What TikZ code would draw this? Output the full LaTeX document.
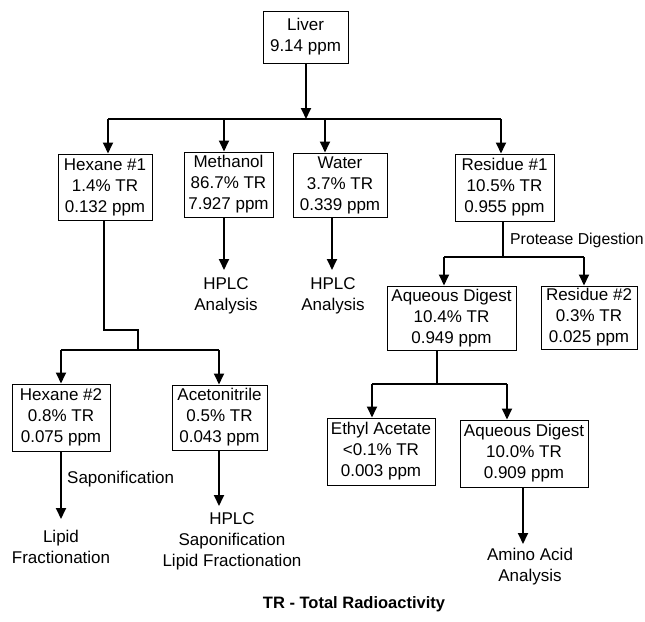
\documentclass[tikz,border=0pt]{standalone}
\usepackage{fontspec}
\setmainfont{Liberation Sans}
\usetikzlibrary{arrows.meta}
\begin{document}
\begin{tikzpicture}[x=1pt,y=-1pt,
  txt/.style={inner sep=0pt, align=center, font=\fontsize{17}{21}\selectfont},
  box/.style={txt, draw, line width=1pt},
  link/.style={line width=1.8pt},
  arr/.style={link, -{Triangle[length=11pt,width=10pt]}}]
\useasboundingbox (0,0) rectangle (645,621);

% sample boxes
\node[box, minimum width=85pt, minimum height=52pt] (liver) at (305.5,37) {Liver\\9.14 ppm};
\node[box, minimum width=94pt, minimum height=66pt] (hex1) at (105,187) {Hexane \#1\\1.4\% TR\\0.132 ppm};
\node[box, minimum width=89pt, minimum height=65pt] (meth) at (228.5,184.5) {Methanol\\86.7\% TR\\7.927 ppm};
\node[box, minimum width=94pt, minimum height=64pt] (water) at (340,185) {Water\\3.7\% TR\\0.339 ppm};
\node[box, minimum width=99pt, minimum height=67pt] (res1) at (504.5,187.5) {Residue \#1\\10.5\% TR\\0.955 ppm};
\node[box, minimum width=129pt, minimum height=64pt] (aq1) at (451.5,318) {Aqueous Digest\\10.4\% TR\\0.949 ppm};
\node[box, minimum width=96pt, minimum height=63pt] (res2) at (589,317.5) {Residue \#2\\0.3\% TR\\0.025 ppm};
\node[box, minimum width=98pt, minimum height=67pt] (hex2) at (61,417.5) {Hexane \#2\\0.8\% TR\\0.075 ppm};
\node[box, minimum width=95pt, minimum height=65pt] (acn) at (219.5,417.5) {Acetonitrile\\0.5\% TR\\0.043 ppm};
\node[box, minimum width=108pt, minimum height=67pt] (ethyl) at (381,451.5) {Ethyl Acetate\\<0.1\% TR\\0.003 ppm};
\node[box, minimum width=128pt, minimum height=67pt] (aq2) at (524,453.5) {Aqueous Digest\\10.0\% TR\\0.909 ppm};

% analysis end points
\node[txt] (methA) at (226,296) {HPLC\\Analysis};
\node[txt] (waterA) at (333,296) {HPLC\\Analysis};
\node[txt] (hex2A) at (61,547) {Lipid\\Fractionation};
\node[txt] (acnA) at (232,541) {HPLC\\Saponification\\Lipid Fractionation};
\node[txt] (aq2A) at (530,567) {Amino Acid\\Analysis};

% step labels
\node[txt, anchor=west, font=\fontsize{15.8}{20}\selectfont] (prot) at (510,240) {Protease Digestion};
\node[txt, anchor=west] (sapo) at (67,479) {Saponification};

% legend
\node[inner sep=0pt, font=\fontsize{16.5}{20}\selectfont\bfseries] (legend) at (354,604) {TR - Total Radioactivity};

% first split of the liver
\coordinate (l0) at (306,119);
\coordinate (lL) at (108,119);
\coordinate (lR) at (501,119);
\coordinate (lM) at (224,119);
\coordinate (lW) at (325,119);
\draw[arr] (liver.south -| l0) -- (l0);
\draw[link] (lL) -- (lR);
\draw[arr] (lL) -- (lL |- hex1.north);
\draw[arr] (lM) -- (lM |- meth.north);
\draw[arr] (lW) -- (lW |- water.north);
\draw[arr] (lR) -- (lR |- res1.north);

% methanol and water extracts
\coordinate (m0) at (224,217);
\coordinate (w0) at (332,217);
\draw[arr] (m0) -- (224,270) coordinate (m1);
\draw[arr] (w0) -- (332,270) coordinate (w1);

% hexane #1 partition
\coordinate (h0) at (104,220);
\coordinate (hL) at (61,350);
\coordinate (hR) at (219,350);
\draw[link] (h0) -- (104,330) -- (138,330) -- (138,350);
\draw[link] (hL) -- (hR);
\draw[arr] (hL) -- (hL |- hex2.north);
\draw[arr] (hR) -- (hR |- acn.north);
\draw[arr] (hex2.south -| hL) -- (61,519) coordinate (h2);
\draw[arr] (acn.south -| hR) -- (219,506) coordinate (a2);

% residue #1 digestion
\coordinate (r0) at (503,221);
\coordinate (rL) at (444,257);
\coordinate (rR) at (584,257);
\draw[link] (r0) -- (503,257);
\draw[link] (rL) -- (rR);
\draw[arr] (rL) -- (rL |- aq1.north);
\draw[arr] (rR) -- (rR |- res2.north);

% aqueous digest partition
\coordinate (q0) at (437,350);
\coordinate (qL) at (372,384);
\coordinate (qR) at (507,384);
\draw[link] (q0) -- (437,384);
\draw[link] (qL) -- (qR);
\draw[arr] (qL) -- (qL |- ethyl.north);
\draw[arr] (qR) -- (qR |- aq2.north);
\draw[arr] (aq2.south -| 523,0) -- (523,544) coordinate (q2);
\end{tikzpicture}
\end{document}
